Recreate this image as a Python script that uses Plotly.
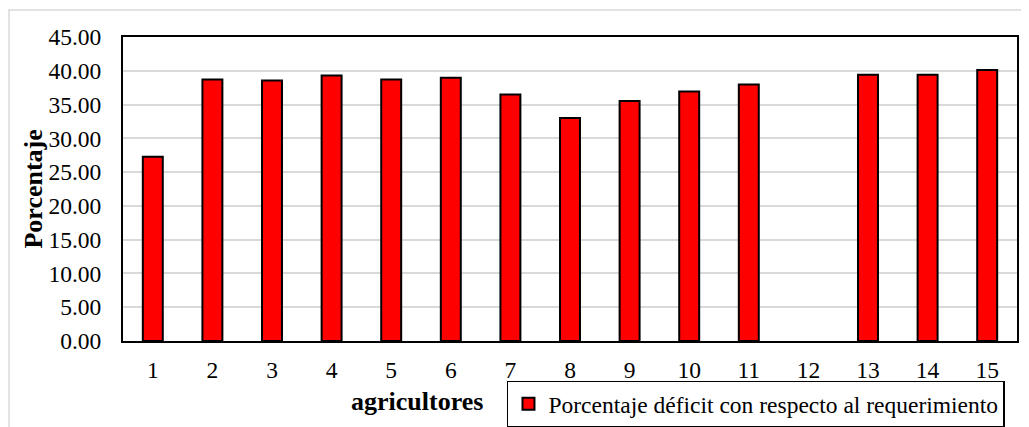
import plotly.graph_objects as go

# Data
agricultores = [str(i) for i in range(1, 16)]
porcentaje = [27.28, 38.71, 38.56, 39.30, 38.71, 38.95, 36.50, 33.00,
              35.51, 36.94, 37.97, None, 39.40, 39.40, 40.13]
serie = "Porcentaje déficit con respecto al requerimiento"
y_ticks = [0, 5, 10, 15, 20, 25, 30, 35, 40, 45]

FONT = "Liberation Serif, Times New Roman, serif"

fig = go.Figure()
fig.add_trace(go.Bar(
    x=agricultores,
    y=porcentaje,
    name=serie,
    marker=dict(color="#ff0000", line=dict(color="black", width=2)),
    showlegend=True,
))

# page body adds an 8px margin, so the figure is a bit smaller than the window
fig.update_layout(
    template="none",
    width=1021,
    height=419,
    margin=dict(l=115, r=12, t=29, b=85.5, autoexpand=False),
    plot_bgcolor="white",
    paper_bgcolor="white",
    font=dict(family=FONT, size=23.5, color="black"),
    bargap=0.665,
    showlegend=True,
    legend=dict(
        x=0.4295, y=-0.13, xanchor="left", yanchor="top",
        bordercolor="black", borderwidth=1.5,
        font=dict(family=FONT, size=23.5, color="black"),
        itemwidth=30,
    ),
)

fig.update_xaxes(
    type="category",
    automargin=False,
    showline=True, linecolor="black", linewidth=2, mirror=True,
    ticks="outside", ticklen=7, tickcolor="rgba(0,0,0,0)",
    tickfont=dict(family=FONT, size=23.5, color="black"),
    showgrid=False,
)
fig.update_yaxes(
    range=[0, 45],
    automargin=False,
    tickvals=y_ticks,
    tickformat=".2f",
    showline=True, linecolor="black", linewidth=2, mirror=True,
    showgrid=True, gridcolor="#d9d9d9", gridwidth=2,
    ticks="outside", ticklen=15, tickcolor="rgba(0,0,0,0)",
    tickfont=dict(family=FONT, size=23.5, color="black"),
    zeroline=False,
)

# Axis titles placed like the original
fig.add_annotation(text="<b>agricultores</b>", xref="paper", yref="paper",
                   x=0.3289, y=-0.2003, xanchor="center", yanchor="middle",
                   showarrow=False,
                   font=dict(family=FONT, size=26, color="black"))
fig.add_annotation(text="<b>Porcentaje</b>", xref="paper", yref="paper",
                   x=-0.1012, y=0.5, xanchor="center", yanchor="middle",
                   textangle=-90, showarrow=False,
                   font=dict(family=FONT, size=26, color="black"))

# Light outer chart border
fig.add_shape(type="rect", xref="paper", yref="paper",
              x0=-0.1275, x1=1.05, y0=-0.4, y1=1.0887,
              line=dict(color="#d9d9d9", width=1.5), layer="below")

fig.write_html("out.html")
